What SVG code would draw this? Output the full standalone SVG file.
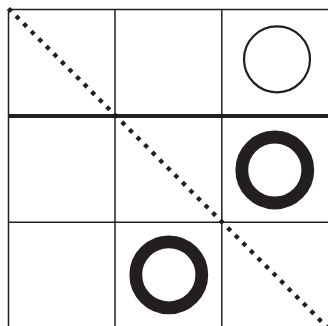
<svg xmlns="http://www.w3.org/2000/svg" width="328" height="326" viewBox="0 0 328 326">
<style>
.grid{stroke:#231f20;stroke-width:1.5;fill:none}
.thick{stroke:#231f20;stroke-width:4;fill:none}
.o-thin{stroke:#231f20;stroke-width:2.2;fill:none}
.o-bold{stroke:#231f20;stroke-width:12.8;fill:none}
.win{stroke:#231f20;stroke-width:4.3;stroke-dasharray:4.3 6.39;fill:none}
</style>
<rect width="328" height="326" fill="#fff"/>
<g id="grid">
<line class="grid" x1="8" y1="9.5" x2="328" y2="9.5"/>
<line class="grid" x1="8.5" y1="9" x2="8.5" y2="326"/>
<line class="grid" x1="115" y1="9" x2="115" y2="326"/>
<line class="grid" x1="221.8" y1="9" x2="221.8" y2="326"/>
<line class="grid" x1="8" y1="222.3" x2="328" y2="222.3"/>
<line class="thick" x1="8" y1="116" x2="328" y2="116"/>
</g>
<g id="o-top-right"><circle class="o-thin" cx="277" cy="59.3" r="33"/></g>
<g id="o-mid-right"><circle class="o-bold" cx="274.8" cy="170" r="33"/></g>
<g id="o-bottom-mid"><circle class="o-bold" cx="168.8" cy="274.8" r="33"/></g>
<g id="connectors">
<line class="win" x1="8.48" y1="8.48" x2="332" y2="332"/>
</g>
</svg>
